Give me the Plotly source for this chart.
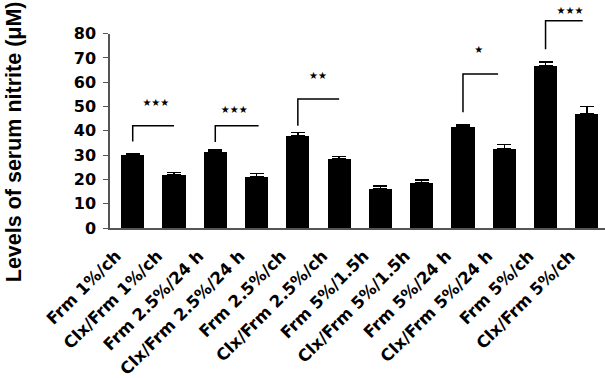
import plotly.graph_objects as go

categories = ["Frm 1%/ch", "Clx/Frm 1%/ch", "Frm 2.5%/24 h", "Clx/Frm 2.5%/24 h",
              "Frm 2.5%/ch", "Clx/Frm 2.5%/ch", "Frm 5%/1.5h", "Clx/Frm 5%/1.5h",
              "Frm 5%/24 h", "Clx/Frm 5%/24 h", "Frm 5%/ch", "Clx/Frm 5%/ch"]
values = [30.2, 21.8, 31.5, 21.1, 38.1, 28.4, 16.1, 18.7, 41.8, 32.6, 67.0, 47.1]
errors = [0.3, 1.0, 0.6, 1.3, 1.2, 1.1, 1.1, 1.1, 0.6, 1.8, 1.3, 2.9]
y_ticks = [0, 10, 20, 30, 40, 50, 60, 70, 80]

# significance brackets: start bar index, end position, top level, lower end of left leg
bracket_start = [0, 2, 4, 8, 10]
bracket_end = [1.0, 3.05, 5.0, 8.85, 10.9]
bracket_top = [42.1, 42.1, 53.1, 63.4, 85.3]
bracket_low = [35.6, 35.4, 42.1, 47.7, 73.6]
star_labels = ["★★★", "★★★", "★★", "★", "★★★"]
star_x = [0.56, 2.46, 4.49, 8.38, 10.59]
star_y = [51.1, 48.5, 62.4, 72.9, 89.3]

Y_MAX = 80
DOMAIN_TOP = 0.8674
FONT = "DejaVu Sans"
LABEL_SHIFT = 0.4

idx = list(range(len(categories)))

fig = go.Figure()
fig.add_trace(go.Bar(
    x=idx, y=values, width=0.56,
    marker=dict(color="black", line=dict(width=0)),
    error_y=dict(type="data", symmetric=False, array=errors,
                 arrayminus=[0] * len(errors), color="black",
                 thickness=1.5, width=7),
    xaxis="x", yaxis="y", showlegend=False,
))

bx, by = [], []
for s, e, t, lo in zip(bracket_start, bracket_end, bracket_top, bracket_low):
    bx += [s, s, e, None]
    by += [lo, t, t, None]
fig.add_trace(go.Scatter(x=bx, y=by, mode="lines",
                         line=dict(color="black", width=1.5),
                         xaxis="x", yaxis="y2", showlegend=False,
                         hoverinfo="skip"))
fig.add_trace(go.Scatter(x=star_x, y=star_y, mode="text", text=star_labels,
                         textfont=dict(family="DejaVu Sans", size=10, color="black"),
                         textposition="middle center", cliponaxis=False,
                         xaxis="x", yaxis="y2", showlegend=False,
                         hoverinfo="skip"))

x_range = [-0.55, 11.44]
fig.update_layout(
    width=605, height=378,
    margin=dict(l=110, r=0, t=4, b=150, autoexpand=False),
    paper_bgcolor="white", plot_bgcolor="rgba(0,0,0,0)",
    bargap=0,
    xaxis=dict(range=x_range, tickmode="array",
               tickvals=[i - LABEL_SHIFT for i in idx], ticktext=categories,
               ticks="", tickangle=-45, showline=True, linecolor="#555",
               linewidth=1.5, showgrid=False, zeroline=False, anchor="y",
               automargin=False, ticklabelstandoff=10,
               tickfont=dict(family=FONT, size=16.5, color="black", weight="bold")),
    xaxis2=dict(range=x_range, overlaying="x", anchor="y", side="bottom",
                tickmode="array", tickvals=[i - 0.5 for i in idx],
                ticks="outside", ticklen=6, tickwidth=1.2, tickcolor="#555",
                showticklabels=False, showline=False, showgrid=False,
                zeroline=False, automargin=False),
    yaxis=dict(range=[0, Y_MAX], domain=[0, DOMAIN_TOP], tickmode="array",
               tickvals=y_ticks, ticks="outside", ticklen=5, tickwidth=1.2,
               tickcolor="#555", showline=True, linecolor="#555", linewidth=1.5,
               showgrid=False, zeroline=False, anchor="x", automargin=False,
               ticklabelstandoff=4,
               tickfont=dict(family=FONT, size=16, color="black", weight="bold")),
    yaxis2=dict(range=[0, Y_MAX / DOMAIN_TOP], domain=[0, 1], anchor="x",
                visible=False, showgrid=False, zeroline=False, automargin=False),
    annotations=[dict(text="Levels of serum nitrite (μM)", textangle=-90,
                      xref="paper", yref="paper", x=-0.195, y=0.385,
                      xanchor="center", yanchor="middle", showarrow=False,
                      font=dict(family="Liberation Sans", size=21.5,
                                color="black", weight="bold"))],
)

fig.write_html("out.html", config={"displayModeBar": False},
               post_script="document.body.style.margin='0px';")
